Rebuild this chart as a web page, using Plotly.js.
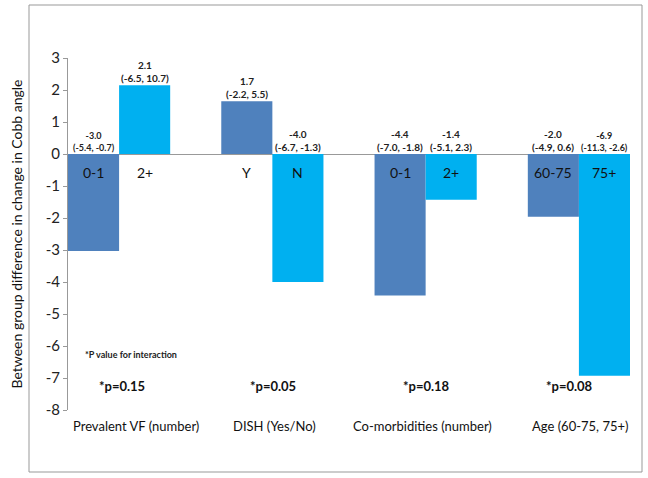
<!DOCTYPE html>
<html>
<head>
<meta charset="utf-8">
<script src="https://cdn.plot.ly/plotly-3.0.1.min.js"></script>
<style>html,body{margin:0;padding:0;background:#fff}</style>
</head>
<body>
<div id="chart" style="width:648px;height:478px"></div>
<script>
// ---- data ----
const groups = ['Prevalent VF (number)', 'DISH (Yes/No)', 'Co-morbidities (number)', 'Age (60-75, 75+)'];
const sub1 = ['0-1', 'Y', '0-1', '60-75'];
const sub2 = ['2+', 'N', '2+', '75+'];
const val1 = [-3.03, 1.65, -4.42, -1.96];
const val2 = [2.15, -4.0, -1.43, -6.93];
const est1 = ['-3.0', '1.7', '-4.4', '-2.0'];
const ci1 = ['(-5.4, -0.7)', '(-2.2, 5.5)', '(-7.0, -1.8)', '(-4.9, 0.6)'];
const est2 = ['2.1', '-4.0', '-1.4', '-6.9'];
const ci2 = ['(-6.5, 10.7)', '(-6.7, -1.3)', '(-5.1, 2.3)', '(-11.3, -2.6)'];
const pvals = ['*p=0.15', '*p=0.05', '*p=0.18', '*p=0.08'];
const yTicks = [3, 2, 1, 0, -1, -2, -3, -4, -5, -6, -7, -8];

// ---- layout constants ----
const W = 648, H = 478;
const M = {l: 68, r: 18, t: 58, b: 68};
const xr = [-1/3, 10/3];
const bargap = 1/3;
const plotW = W - M.l - M.r, plotH = H - M.t - M.b;
const catPx = plotW / (xr[1] - xr[0]);
const half = catPx * (1 - bargap) / 4;
const FONT = 'Lato, "Open Sans", sans-serif';
const dark = '#4F81BD', light = '#00B0F0';

const traces = [
  {type: 'bar', x: groups, y: val1, marker: {color: dark}, hoverinfo: 'none'},
  {type: 'bar', x: groups, y: val2, marker: {color: light}, hoverinfo: 'none'}
];

const ann = [];
for (let i = 0; i < groups.length; i++) {
  [[val1, est1, ci1, sub1, -1, (i === 0 ? 9 : 10)], [val2, est2, ci2, sub2, 1, (i === 3 ? 9 : 10)]].forEach(function (s) {
    const v = s[0][i];
    ann.push({x: groups[i], xref: 'x', y: Math.max(v, 0), yref: 'y', yanchor: 'bottom',
      xshift: s[4] * half, yshift: -1, showarrow: false,
      text: '<b>' + s[1][i] + '<br>' + s[2][i] + '</b>',
      font: {family: FONT, size: s[5], color: '#222'}});
    ann.push({x: groups[i], xref: 'x', y: 0, yref: 'y', yanchor: 'top', yshift: -8,
      xshift: s[4] * half, showarrow: false, text: s[3][i],
      font: {family: FONT, size: 14, color: '#111'}});
  });
  ann.push({x: groups[i], xref: 'x', y: -7.25, yref: 'y', showarrow: false,
    xshift: [3, 1, 1, -9][i], text: '<b>' + pvals[i] + '</b>',
    font: {family: FONT, size: 13, color: '#111'}});
  ann.push({x: groups[i], xref: 'x', y: -0.045, yref: 'paper', yanchor: 'middle', showarrow: false,
    xshift: [17, 2, -3, 1][i], text: groups[i],
    font: {family: FONT, size: 13, color: '#111'}});
}
ann.push({x: 0, xref: 'x', xshift: -36, y: -6.25, yref: 'y', xanchor: 'left', showarrow: false,
  text: '<b>*P value for interaction</b>', font: {family: FONT, size: 9, color: '#222'}});

const layout = {
  width: W, height: H,
  margin: M,
  paper_bgcolor: '#fff', plot_bgcolor: '#fff',
  font: {family: FONT, color: '#111'},
  showlegend: false,
  barmode: 'group', bargap: bargap, bargroupgap: 0,
  xaxis: {type: 'category', range: xr, showticklabels: false, ticks: '', showline: false,
    showgrid: false, zeroline: false, fixedrange: true},
  yaxis: {range: [-8, 3], tickvals: yTicks, ticktext: yTicks.map(String), showgrid: false,
    zeroline: true, zerolinecolor: '#999', zerolinewidth: 1,
    showline: true, linecolor: '#999', linewidth: 1, ticks: 'outside', ticklen: 4, tickcolor: '#999',
    tickfont: {family: FONT, size: 15, color: '#222'},
    title: {text: 'Between group difference in change in Cobb angle', standoff: 19,
      font: {family: FONT, size: 14, color: '#111'}}},
  shapes: [{type: 'rect', xref: 'paper', yref: 'paper',
    x0: (29 - M.l) / plotW, x1: (642 - M.l) / plotW,
    y0: (H - M.b - 472) / plotH, y1: (H - M.b - 5) / plotH,
    line: {color: '#999', width: 1}, fillcolor: 'rgba(0,0,0,0)', layer: 'below'}],
  annotations: ann
};

Plotly.newPlot('chart', traces, layout, {staticPlot: true, displayModeBar: false});
</script>
</body>
</html>
